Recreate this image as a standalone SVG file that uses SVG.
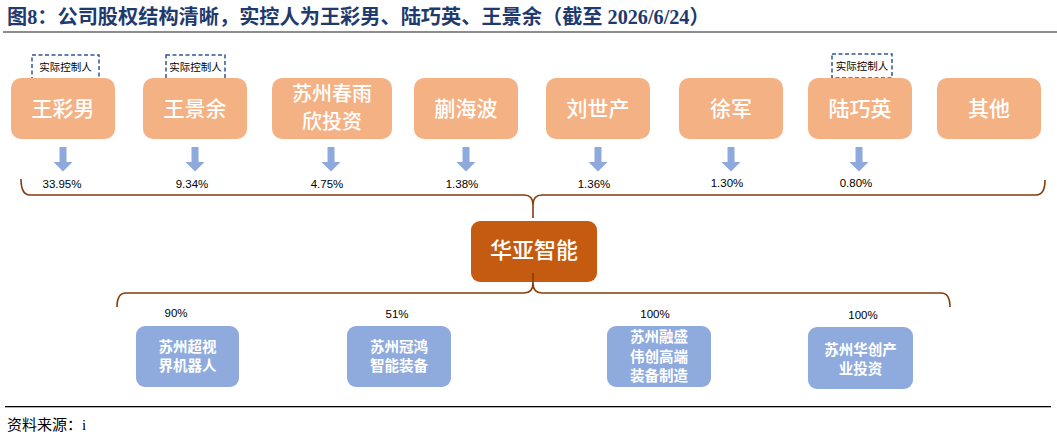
<svg xmlns="http://www.w3.org/2000/svg" width="1057" height="437" viewBox="0 0 1057 437">
<defs>
<style>
.title{font-family:"Liberation Serif","Noto Sans CJK SC",serif;font-weight:bold;font-size:20.2px;fill:#1F3A6E}
.top{fill:#F4B183}
.topt{font-family:"Noto Sans CJK SC",sans-serif;font-size:21px;fill:#fff;text-anchor:middle;font-weight:500}
.sub{fill:#8FAADC}
.subt{font-family:"Noto Sans CJK SC",sans-serif;font-size:14.5px;fill:#fff;text-anchor:middle;font-weight:bold}
.pct{font-family:"Liberation Sans",sans-serif;font-size:11.5px;fill:#000;text-anchor:middle}
.ctl{fill:none;stroke:#2F5597;stroke-width:1.5;stroke-dasharray:4,2.5}
.ctlt{font-family:"Noto Sans CJK SC",sans-serif;font-size:10.5px;fill:#000;text-anchor:middle}
.arr{fill:#8EA9DB}
.brace{fill:none;stroke:#843C0C;stroke-width:1.6}
</style>
</defs>
<rect width="1057" height="437" fill="#fff"/>
<text class="title" x="7" y="24">图8：公司股权结构清晰，实控人为王彩男、陆巧英、王景余（截至 2026/6/24）</text>
<rect x="3" y="31" width="1054" height="2" fill="#8c8c8c"/>

<g id="ctl1"><rect class="ctl" x="32" y="55" width="67" height="24"/><text class="ctlt" x="65.5" y="71">实际控制人</text></g>
<g id="ctl2"><rect class="ctl" x="166" y="55" width="59" height="24"/><text class="ctlt" x="195.5" y="71">实际控制人</text></g>
<g id="ctl3"><rect class="ctl" x="832" y="54" width="60" height="24"/><text class="ctlt" x="862" y="70">实际控制人</text></g>

<g id="n1"><rect class="top" x="11" y="78" width="104" height="61" rx="10"/><text class="topt" x="63" y="116">王彩男</text></g>
<g id="n2"><rect class="top" x="143" y="78" width="104" height="61" rx="10"/><text class="topt" x="195" y="116">王景余</text></g>
<g id="n3"><rect class="top" x="272" y="78" width="120" height="61" rx="10"/><text class="topt" x="332" y="101" style="font-size:20px">苏州春雨</text><text class="topt" x="332" y="129" style="font-size:20px">欣投资</text></g>
<g id="n4"><rect class="top" x="414" y="78" width="104" height="61" rx="10"/><text class="topt" x="466" y="116">蒯海波</text></g>
<g id="n5"><rect class="top" x="546" y="78" width="104" height="61" rx="10"/><text class="topt" x="598" y="116">刘世产</text></g>
<g id="n6"><rect class="top" x="679" y="78" width="104" height="61" rx="10"/><text class="topt" x="731" y="116">徐军</text></g>
<g id="n7"><rect class="top" x="808" y="78" width="104" height="61" rx="10"/><text class="topt" x="860" y="116">陆巧英</text></g>
<g id="n8"><rect class="top" x="937" y="78" width="104" height="61" rx="10"/><text class="topt" x="989" y="116">其他</text></g>

<g id="arrows">
<path class="arr" d="M59.5,147h7v15h6l-9.5,9.5l-9.5,-9.5h6z"/>
<path class="arr" d="M191.5,147h7v15h6l-9.5,9.5l-9.5,-9.5h6z"/>
<path class="arr" d="M327.5,147h7v15h6l-9.5,9.5l-9.5,-9.5h6z"/>
<path class="arr" d="M462.5,147h7v15h6l-9.5,9.5l-9.5,-9.5h6z"/>
<path class="arr" d="M594.5,147h7v15h6l-9.5,9.5l-9.5,-9.5h6z"/>
<path class="arr" d="M727.5,147h7v15h6l-9.5,9.5l-9.5,-9.5h6z"/>
<path class="arr" d="M855.5,147h7v15h6l-9.5,9.5l-9.5,-9.5h6z"/>
</g>

<g id="pcts">
<text class="pct" x="62" y="188">33.95%</text>
<text class="pct" x="192" y="188">9.34%</text>
<text class="pct" x="327" y="188">4.75%</text>
<text class="pct" x="462" y="188">1.38%</text>
<text class="pct" x="594" y="188">1.36%</text>
<text class="pct" x="727" y="187">1.30%</text>
<text class="pct" x="856" y="187">0.80%</text>
<text class="pct" x="176" y="317">90%</text>
<text class="pct" x="397" y="318">51%</text>
<text class="pct" x="655" y="318">100%</text>
<text class="pct" x="863" y="319">100%</text>
</g>

<g id="center"><rect x="471" y="221" width="126" height="61" rx="9" fill="#C55A11"/><text x="534" y="258" font-family="Noto Sans CJK SC,sans-serif" font-size="22" fill="#fff" text-anchor="middle" font-weight="500">华亚智能</text></g>

<g id="connectors">
<path class="brace" d="M21,179 Q21,195 30,195 L524,195 Q533,195 533,205 L533,218 M533,205 Q533,195 542,195 L1036,195 Q1045,195 1045,180"/>
<path class="brace" d="M117,307 Q117,293 126,293 L524,293 Q533,293 533,283 L533,273 M533,283 Q533,293 542,293 L941,293 Q950,293 950,307"/>
</g>

<g id="s1"><rect class="sub" x="136" y="326" width="103" height="61" rx="9"/><text class="subt" x="187.5" y="352">苏州超视</text><text class="subt" x="187.5" y="371">界机器人</text></g>
<g id="s2"><rect class="sub" x="347" y="326" width="104" height="61" rx="9"/><text class="subt" x="399" y="352">苏州冠鸿</text><text class="subt" x="399" y="371">智能装备</text></g>
<g id="s3"><rect class="sub" x="607" y="326" width="104" height="61" rx="9"/><text class="subt" x="659" y="342">苏州融盛</text><text class="subt" x="659" y="362">伟创高端</text><text class="subt" x="659" y="381">装备制造</text></g>
<g id="s4"><rect class="sub" x="808" y="327" width="105" height="62" rx="9"/><text class="subt" x="860.5" y="355">苏州华创产</text><text class="subt" x="860.5" y="374">业投资</text></g>

<rect x="5" y="406" width="1046" height="1.3" fill="#000"/>
<text x="7" y="430" font-family="Liberation Serif,Noto Sans CJK SC,serif" font-size="15" fill="#000">资料来源：i</text>
</svg>
